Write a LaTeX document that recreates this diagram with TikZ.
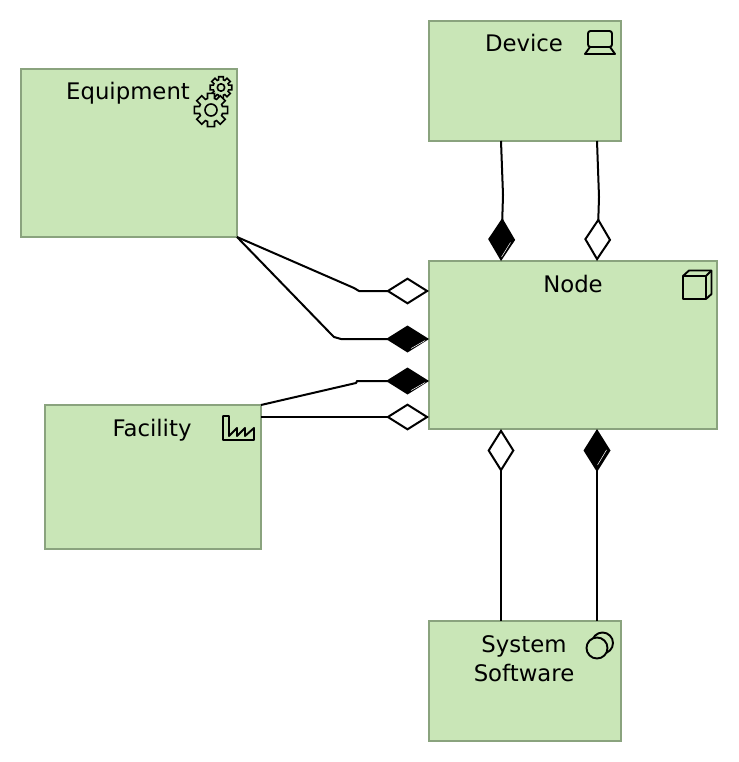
\documentclass[tikz,border=0pt]{standalone}
\usepackage{fontspec}
\setmainfont{DejaVu Sans}
\usetikzlibrary{arrows.meta}
\definecolor{boxfill}{HTML}{C9E6B7}
\definecolor{boxline}{HTML}{8AA37E}
\tikzset{
  elem/.style={draw=boxline,fill=boxfill,line width=2.4pt,inner sep=0pt,outer sep=0pt,anchor=north west},
  lbl/.style={font=\fontsize{22.8}{29}\selectfont,inner sep=0pt,align=center,text=black},
  conn/.style={line width=2pt,draw=black,line join=round},
  aggr/.style={conn,-{Diamond[length=43pt,width=27pt,open,fill=white,line join=miter]}},
  comp/.style={conn,-{Diamond[length=43pt,width=27pt,fill=black,line join=miter]}},
  icon/.style={draw=black,line width=1.9pt,line join=round},
  glint/.style={draw=white,line width=0.5pt},
}
\newcommand{\gearicon}[5]{%
  \begin{scope}[shift={(#1,#2)}]
    \draw[icon,fill=boxfill,line width=1.6pt,line join=miter] (-12:#3)
      \foreach \k in {0,...,7}{
        -- ({\k*45-12}:#3) -- ({\k*45+12}:#3) -- ({\k*45+17}:#4) -- ({\k*45+28}:#4)
      } -- cycle;
    \draw[icon,line width=1.6pt] (0,0) circle (#5);
  \end{scope}}
\begin{document}
\begin{tikzpicture}[x=1pt,y=-1pt]
\useasboundingbox (0,0) rectangle (738,762);

\node[elem,minimum width=192pt,minimum height=120pt] (device) at (429,21) {};
\node[elem,minimum width=216pt,minimum height=168pt] (equipment) at (21,69) {};
\node[elem,minimum width=288pt,minimum height=168pt] (nodebox) at (429,261) {};
\node[elem,minimum width=216pt,minimum height=144pt] (facility) at (45,405) {};
\node[elem,minimum width=192pt,minimum height=120pt] (software) at (429,621) {};

\node[lbl,anchor=base] (tdevice) at (524,52) {Device};
\node[lbl,anchor=base] (tequipment) at (128,100) {Equipment};
\node[lbl,anchor=base] (tnode) at (573,292) {Node};
\node[lbl,anchor=base] (tfacility) at (152,436) {Facility};
\node[lbl] (tsoftware) at (524,658.5) {System\\Software};

% connector ends
\coordinate (d1) at (501,141);
\coordinate (d2) at (597,141);
\coordinate (n1) at (501,261);
\coordinate (n2) at (597,261);
\coordinate (w1) at (429,291);
\coordinate (w2) at (429,339);
\coordinate (w3) at (429,381);
\coordinate (w4) at (429,417);
\coordinate (f1) at (261,405);
\coordinate (f2) at (261,417);
\coordinate (s1) at (501,621);
\coordinate (s2) at (597,621);
\coordinate (n3) at (501,429);
\coordinate (n4) at (597,429);

\draw[comp] (d1) -- (503,195) -- (n1);
\draw[aggr] (d2) -- (599,197) -- (n2);
\draw[aggr] (equipment.south east) -- (354,288) -- (359,291) -- (w1);
\draw[comp] (equipment.south east) -- (331,334) -- (334,337) -- (341,339) -- (w2);
\draw[comp] (f1) -- (356,383) -- (357,381) -- (w3);
\draw[aggr] (f2) -- (w4);
\draw[aggr] (s1) -- (n3);
\draw[comp] (s2) -- (n4);

% highlights on the filled diamonds
\draw[glint] (501.5,257) -- (510.5,242.5);
\draw[glint] (411,348.5) -- (425,340.5);
\draw[glint] (411,390.5) -- (425,382.5);
\draw[glint] (597.5,465) -- (606.5,450);

% icons
\draw[icon,rounded corners=2.5pt] (588,31) rectangle (612,47);
\draw[icon] (590,47) -- (585,54) -- (615,54) -- (610,47);

\draw[icon] (683,276) rectangle (706,299);
\draw[icon] (683,276) -- (689,270.5) -- (711.5,270.5) -- (711.5,294) -- (706,299);
\draw[icon] (706,276) -- (711.5,270.5);

\draw[icon] (223,416) -- (229,416) -- (229,436) -- (237,428) -- (237,436) -- (245,428) -- (245,436) -- (254,428) -- (254,440) -- (223,440) -- cycle;

\draw[icon,fill=boxfill] (602.5,643) circle (10.5);
\draw[icon,fill=boxfill] (597,648) circle (10.5);

\gearicon{221}{87.5}{11}{8}{3.7}
\gearicon{211}{110}{17}{12}{6}
\end{tikzpicture}
\end{document}
